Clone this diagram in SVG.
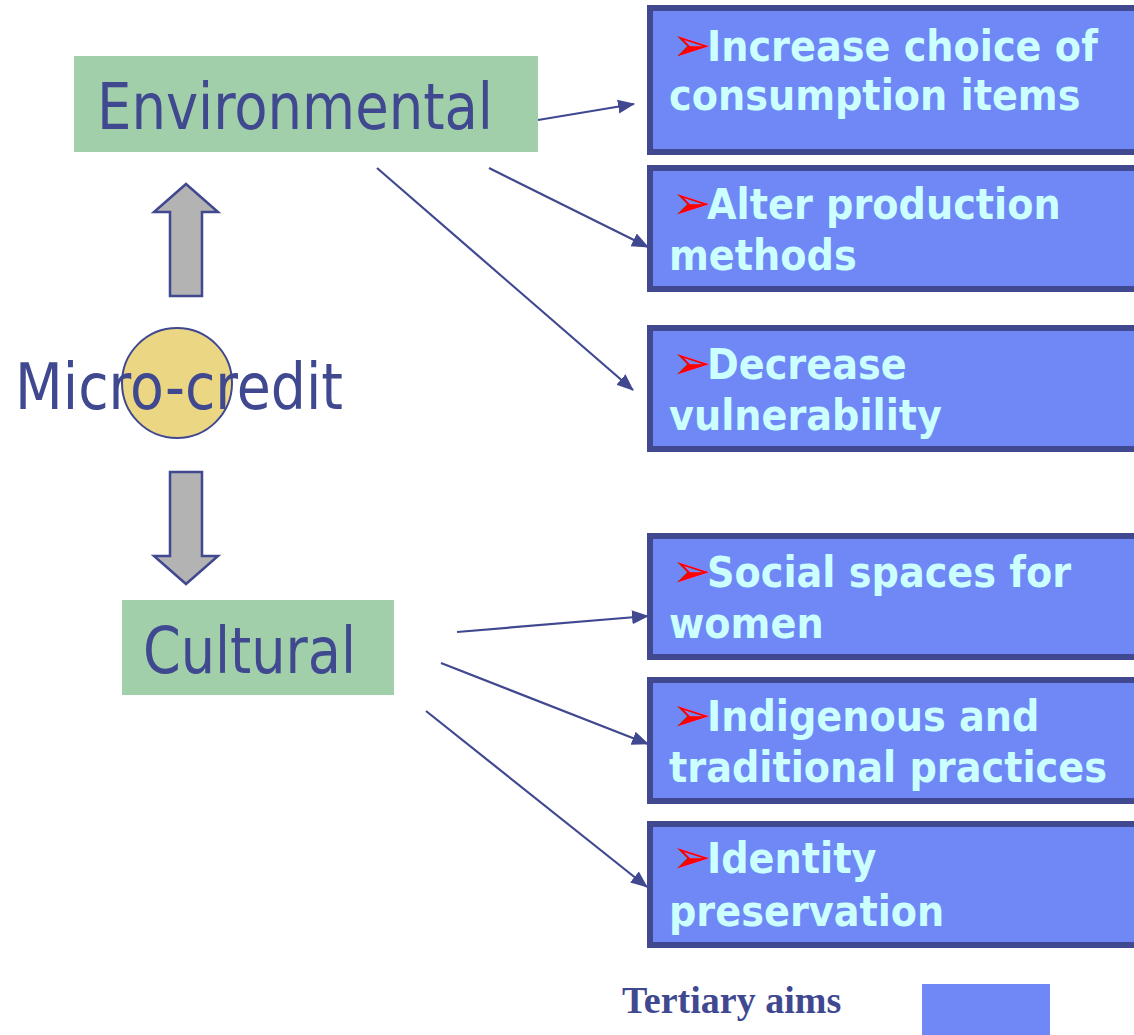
<svg xmlns="http://www.w3.org/2000/svg" width="1134" height="1035" viewBox="0 0 1134 1035">
<defs>
<style>
.aim{fill:#6F88F5;stroke:#404890;stroke-width:6}
.aimt{font-family:"DejaVu Sans Condensed","DejaVu Sans",sans-serif;font-weight:bold;font-size:42.5px;fill:#CCFFFF}
.bul{font-family:"DejaVu Sans",sans-serif;font-weight:normal;font-size:47px;fill:#FF0000}
.cat{fill:#A0CFAA}
.catt{font-family:"DejaVu Sans Condensed","DejaVu Sans",sans-serif;font-size:64px;fill:#404890}
.conn{stroke:#404890;stroke-width:2.2;fill:none;marker-end:url(#ah)}
.blk{fill:#B3B3B3;stroke:#404890;stroke-width:2.5}
</style>
<marker id="ah" markerUnits="userSpaceOnUse" markerWidth="18" markerHeight="16" refX="16" refY="8" orient="auto">
<path d="M0,1 L17,8 L0,15 Z" fill="#404890"/>
</marker>
</defs>

<g id="connectors">
<line class="conn" x1="538" y1="120" x2="634" y2="104"/>
<line class="conn" x1="489" y1="168" x2="648" y2="247"/>
<line class="conn" x1="377" y1="168" x2="633" y2="390"/>
<line class="conn" x1="457" y1="632" x2="648" y2="616"/>
<line class="conn" x1="441" y1="663" x2="648" y2="744"/>
<line class="conn" x1="426" y1="711" x2="647" y2="887"/>
<path id="arrow-up" class="blk" d="M186,184 L218,212 L202,212 L202,296 L170,296 L170,212 L154,212 Z"/>
<path id="arrow-down" class="blk" d="M170,472 L202,472 L202,556 L218,556 L186,584 L154,556 L170,556 Z"/>
</g>

<g id="environmental">
<rect class="cat" x="74" y="56" width="464" height="96"/>
<text class="catt" x="97" y="129" textLength="396" lengthAdjust="spacingAndGlyphs">Environmental</text>
</g>

<g id="microcredit">
<circle cx="177" cy="383" r="55" fill="#EBD783" stroke="#404890" stroke-width="2"/>
<text class="catt" x="15" y="409" textLength="328" lengthAdjust="spacingAndGlyphs">Micro-credit</text>
</g>

<g id="cultural">
<rect class="cat" x="122" y="600" width="272" height="95"/>
<text class="catt" x="143" y="673" textLength="213" lengthAdjust="spacingAndGlyphs">Cultural</text>
</g>

<g id="aim1">
<rect class="aim" x="650" y="8" width="500" height="144"/>
<text class="aimt" x="672" y="61"><tspan class="bul">➢</tspan><tspan x="707">Increase choice of</tspan></text>
<text class="aimt" x="669" y="110">consumption items</text>
</g>
<g id="aim2">
<rect class="aim" x="650" y="168" width="500" height="121"/>
<text class="aimt" x="672" y="219"><tspan class="bul">➢</tspan><tspan x="707">Alter production</tspan></text>
<text class="aimt" x="669" y="270">methods</text>
</g>
<g id="aim3">
<rect class="aim" x="650" y="328" width="500" height="121"/>
<text class="aimt" x="672" y="379"><tspan class="bul">➢</tspan><tspan x="707">Decrease</tspan></text>
<text class="aimt" x="669" y="430">vulnerability</text>
</g>
<g id="aim4">
<rect class="aim" x="650" y="536" width="500" height="121"/>
<text class="aimt" x="672" y="587"><tspan class="bul">➢</tspan><tspan x="707">Social spaces for</tspan></text>
<text class="aimt" x="669" y="638">women</text>
</g>
<g id="aim5">
<rect class="aim" x="650" y="680" width="500" height="121"/>
<text class="aimt" x="672" y="731"><tspan class="bul">➢</tspan><tspan x="707">Indigenous and</tspan></text>
<text class="aimt" x="669" y="782">traditional practices</text>
</g>
<g id="aim6">
<rect class="aim" x="650" y="824" width="500" height="121"/>
<text class="aimt" x="672" y="873"><tspan class="bul">➢</tspan><tspan x="707">Identity</tspan></text>
<text class="aimt" x="669" y="926">preservation</text>
</g>

<g id="legend">
<text x="622" y="1013" font-family="'Liberation Serif',serif" font-weight="bold" font-size="38" fill="#404890">Tertiary aims</text>
<rect x="922" y="984" width="128" height="51" fill="#6F88F5"/>
</g>
</svg>
